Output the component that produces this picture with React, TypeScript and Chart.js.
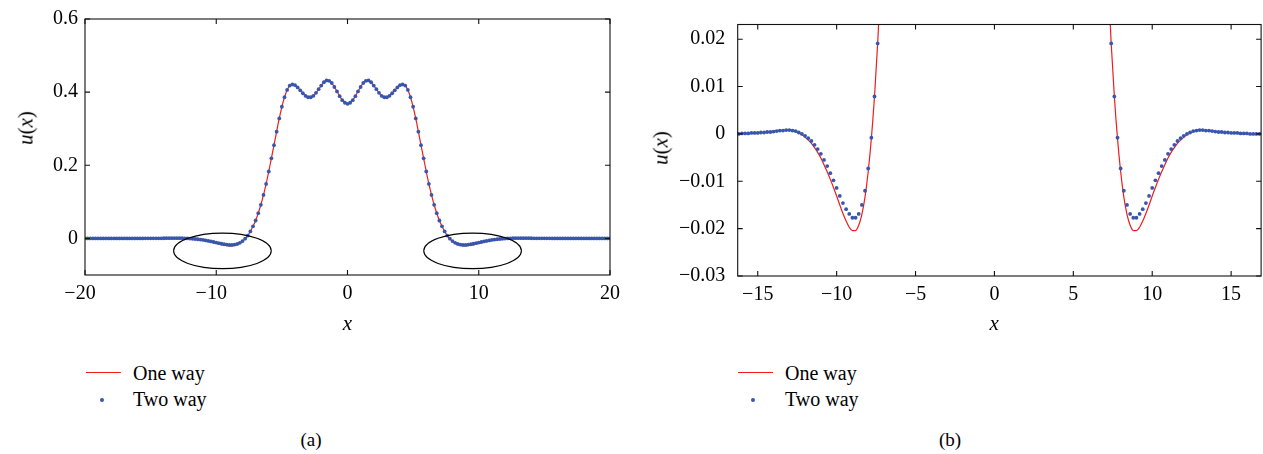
import React, { useEffect, useRef } from 'react';
import { Chart, registerables } from 'chart.js';

Chart.register(...registerables);

const SERIF = '"Liberation Serif", "DejaVu Serif", serif';
Chart.defaults.font.family = SERIF;
const BLUE = '#3856ad';
const RED = '#ee1c1c';

// sampling grid: x = -20 ... 20, step 0.2 (201 samples)
const xStart = -20;
const xStep = 0.2;
const sampleCount = 201;
const xGrid = Array.from({ length: sampleCount }, (_, i) => +(xStart + xStep * i).toFixed(1));

// "Two way" solution u(x) (dots)
const twoWay = [
  // -20.0 .. -16.4
  0, 0, 0, 0, 0, 0, 0, 0, 0, 0, 0, 0, 0, 0, 0, 0, 0, 0, 0,
  // -16.2 .. -12.2
  0.0000, 0.0001, 0.0001, 0.0001, 0.0002, 0.0002, 0.0002, 0.0003, 0.0003, 0.0004, 0.0004,
  0.0005, 0.0006, 0.0007, 0.0007, 0.0008, 0.0008, 0.0007, 0.0006, 0.0003, 0.0000,
  // -12.0 .. -7.6
  -0.0004, -0.0009, -0.0015, -0.0023, -0.0032, -0.0042, -0.0055, -0.0068, -0.0083, -0.0098,
  -0.0114, -0.0131, -0.0146, -0.0159, -0.0169, -0.0177, -0.0177, -0.0169, -0.0150, -0.0120,
  -0.0073, -0.0008, 0.0079,
  // -7.4 .. -4.2
  0.0191, 0.033, 0.049, 0.069, 0.092, 0.119, 0.149, 0.183, 0.219, 0.255, 0.292, 0.328, 0.360,
  0.386, 0.406, 0.418, 0.421,
  // -4.0 .. -0.2
  0.419, 0.413, 0.405, 0.397, 0.390, 0.386, 0.386, 0.390, 0.398, 0.408, 0.418, 0.427, 0.432,
  0.431, 0.425, 0.414, 0.402, 0.389, 0.378, 0.371,
  // 0.0
  0.368,
  // 0.2 .. 4.0
  0.371, 0.378, 0.389, 0.402, 0.414, 0.425, 0.431, 0.432, 0.427, 0.418, 0.408, 0.398, 0.390,
  0.386, 0.386, 0.390, 0.397, 0.405, 0.413, 0.419,
  // 4.2 .. 7.4
  0.421, 0.418, 0.406, 0.386, 0.360, 0.328, 0.292, 0.255, 0.219, 0.183, 0.149, 0.119, 0.092,
  0.069, 0.049, 0.033, 0.0191,
  // 7.6 .. 12.0
  0.0079, -0.0008, -0.0073, -0.0120, -0.0150, -0.0169, -0.0177, -0.0177, -0.0169, -0.0159,
  -0.0146, -0.0131, -0.0114, -0.0098, -0.0083, -0.0068, -0.0055, -0.0042, -0.0032, -0.0023,
  -0.0015, -0.0009, -0.0004,
  // 12.2 .. 16.2
  0.0000, 0.0003, 0.0006, 0.0007, 0.0008, 0.0008, 0.0007, 0.0007, 0.0006, 0.0005, 0.0004,
  0.0004, 0.0003, 0.0003, 0.0002, 0.0002, 0.0002, 0.0001, 0.0001, 0.0001, 0.0000,
  // 16.4 .. 20.0
  0, 0, 0, 0, 0, 0, 0, 0, 0, 0, 0, 0, 0, 0, 0, 0, 0, 0, 0,
];

// "One way" solution u(x) (line)
const oneWay = [
  // -20.0 .. -16.4
  0, 0, 0, 0, 0, 0, 0, 0, 0, 0, 0, 0, 0, 0, 0, 0, 0, 0, 0,
  // -16.2 .. -13.2
  0.0000, 0.0001, 0.0001, 0.0001, 0.0002, 0.0002, 0.0002, 0.0003, 0.0003, 0.0004, 0.0004,
  0.0005, 0.0006, 0.0007, 0.0007, 0.0008,
  // -13.0 .. -7.6
  0.0008, 0.0007, 0.0005, 0.0002, -0.0002, -0.0007, -0.0013, -0.0020, -0.0029, -0.0039,
  -0.0051, -0.0065, -0.0080, -0.0096, -0.0113, -0.0131, -0.0150, -0.0168, -0.0184, -0.0197,
  -0.0204, -0.0204, -0.0193, -0.0170, -0.0133, -0.0080, -0.0010, 0.0079,
  // -7.4 .. -4.2
  0.0191, 0.033, 0.049, 0.069, 0.092, 0.119, 0.149, 0.183, 0.219, 0.255, 0.292, 0.328, 0.360,
  0.386, 0.406, 0.418, 0.421,
  // -4.0 .. -0.2
  0.419, 0.413, 0.405, 0.397, 0.390, 0.386, 0.386, 0.390, 0.398, 0.408, 0.418, 0.427, 0.432,
  0.431, 0.425, 0.414, 0.402, 0.389, 0.378, 0.371,
  // 0.0
  0.368,
  // 0.2 .. 4.0
  0.371, 0.378, 0.389, 0.402, 0.414, 0.425, 0.431, 0.432, 0.427, 0.418, 0.408, 0.398, 0.390,
  0.386, 0.386, 0.390, 0.397, 0.405, 0.413, 0.419,
  // 4.2 .. 7.4
  0.421, 0.418, 0.406, 0.386, 0.360, 0.328, 0.292, 0.255, 0.219, 0.183, 0.149, 0.119, 0.092,
  0.069, 0.049, 0.033, 0.0191,
  // 7.6 .. 13.0
  0.0079, -0.0010, -0.0080, -0.0133, -0.0170, -0.0193, -0.0204, -0.0204, -0.0197, -0.0184,
  -0.0168, -0.0150, -0.0131, -0.0113, -0.0096, -0.0080, -0.0065, -0.0051, -0.0039, -0.0029,
  -0.0020, -0.0013, -0.0007, -0.0002, 0.0002, 0.0005, 0.0007, 0.0008,
  // 13.2 .. 16.2
  0.0008, 0.0007, 0.0007, 0.0006, 0.0005, 0.0004, 0.0004, 0.0003, 0.0003, 0.0002, 0.0002,
  0.0002, 0.0001, 0.0001, 0.0001, 0.0000,
  // 16.4 .. 20.0
  0, 0, 0, 0, 0, 0, 0, 0, 0, 0, 0, 0, 0, 0, 0, 0, 0, 0, 0,
];

const seriesNames = ['One way', 'Two way'];

// panel (a) axes
const xTicksA = [-20, -10, 0, 10, 20];
const xTickLabelsA = ['\u221220\u2002', '\u221210\u2002', '0', '10', '20'];
const yTicksA = [0, 0.2, 0.4, 0.6];
const yTickLabelsA = ['0', '0.2', '0.4', '0.6'];
const xTitleA = 'x';

// panel (b) axes
const xTicksB = [-15, -10, -5, 0, 5, 10, 15];
const xTickLabelsB = ['\u221215', '\u221210', '\u22125', '0', '5', '10', '15'];
const yTicksB = [-0.03, -0.02, -0.01, 0, 0.01, 0.02];
const yTickLabelsB = ['\u22120.03', '\u22120.02', '\u22120.01', '0', '0.01', '0.02'];
const xTitleB = 'x\u2002';

// highlight ellipses in panel (a), in data units
const ellipseCentersX = [-9.53, 9.53];
const ellipseCenterY = -0.034;
const ellipseRadiusX = 3.72;
const ellipseRadiusY = 0.0485;

const frameTicksPlugin = {
  id: 'frameTicks',
  afterDatasetsDraw(chart: any) {
    const { ctx, chartArea: a, scales } = chart;
    const len = 5;
    ctx.save();
    ctx.strokeStyle = '#111';
    ctx.lineWidth = 1.1;
    ctx.beginPath();
    scales.x.ticks.forEach((t: any) => {
      const px = scales.x.getPixelForValue(t.value);
      ctx.moveTo(px, a.bottom);
      ctx.lineTo(px, a.bottom - len);
      ctx.moveTo(px, a.top);
      ctx.lineTo(px, a.top + len);
    });
    scales.y.ticks.forEach((t: any) => {
      const py = scales.y.getPixelForValue(t.value);
      ctx.moveTo(a.left, py);
      ctx.lineTo(a.left + len, py);
      ctx.moveTo(a.right, py);
      ctx.lineTo(a.right - len, py);
    });
    ctx.stroke();
    ctx.strokeRect(a.left, a.top, a.right - a.left, a.bottom - a.top);
    ctx.restore();
  },
};

const ellipsePlugin = {
  id: 'ellipses',
  afterDatasetsDraw(chart: any) {
    const { ctx, scales } = chart;
    const x = scales.x;
    const y = scales.y;
    ctx.save();
    ctx.strokeStyle = '#000';
    ctx.lineWidth = 1.1;
    ellipseCentersX.forEach((cx) => {
      const px = x.getPixelForValue(cx);
      const py = y.getPixelForValue(ellipseCenterY);
      const rx = Math.abs(x.getPixelForValue(cx + ellipseRadiusX) - px);
      const ry = Math.abs(y.getPixelForValue(ellipseCenterY + ellipseRadiusY) - py);
      ctx.beginPath();
      ctx.ellipse(px, py, rx, ry, 0, 0, Math.PI * 2);
      ctx.stroke();
    });
    ctx.restore();
  },
};

type PanelSpec = {
  xMin: number; xMax: number; yMin: number; yMax: number;
  xTicks: number[]; xLabels: string[]; yTicks: number[]; yLabels: string[];
  xTitle: string;
  yAxisWidth: number; xAxisHeight: number; yLabelPad: number;
  padTop: number; padRight: number; plugins: any[];
};

function makeConfig(p: PanelSpec): any {
  const twoWayPts = xGrid.map((x, i) => ({ x, y: twoWay[i] }));
  const oneWayPts = xGrid.map((x, i) => ({ x, y: oneWay[i] }));
  const tickFont = { family: SERIF, size: 20, style: 'normal' as const };
  return {
    type: 'scatter',
    data: {
      datasets: [
        {
          label: seriesNames[1],
          data: twoWayPts,
          showLine: false,
          pointRadius: 1.9,
          pointHoverRadius: 1.9,
          pointBackgroundColor: BLUE,
          pointBorderWidth: 0,
          borderColor: BLUE,
          clip: 0,
          order: 0,
        },
        {
          label: seriesNames[0],
          data: oneWayPts,
          showLine: true,
          pointRadius: 0,
          pointHoverRadius: 0,
          borderColor: RED,
          backgroundColor: RED,
          borderWidth: 1.2,
          cubicInterpolationMode: 'monotone',
          clip: 0,
          order: 1,
        },
      ],
    },
    options: {
      responsive: false,
      animation: false,
      events: [],
      font: { family: SERIF },
      layout: { padding: { left: 0, top: p.padTop, right: p.padRight, bottom: 0 } },
      plugins: { legend: { display: false }, tooltip: { enabled: false } },
      scales: {
        x: {
          type: 'linear',
          min: p.xMin,
          max: p.xMax,
          afterBuildTicks: (s: any) => { s.ticks = p.xTicks.map((v) => ({ value: v })); },
          afterFit: (s: any) => { s.height = p.xAxisHeight; },
          grid: { display: false, drawTicks: false },
          border: { display: false },
          ticks: {
            autoSkip: false,
            maxRotation: 0,
            padding: 6.5,
            color: '#000',
            font: tickFont,
            callback: (_v: any, i: number) => p.xLabels[i],
          },
          title: {
            display: true,
            text: p.xTitle,
            color: '#000',
            font: { family: SERIF, size: 21, style: 'italic' },
            padding: { top: 0, bottom: 8.4 },
          },
        },
        y: {
          type: 'linear',
          min: p.yMin,
          max: p.yMax,
          afterBuildTicks: (s: any) => { s.ticks = p.yTicks.map((v) => ({ value: v })); },
          afterFit: (s: any) => { s.width = p.yAxisWidth; },
          grid: { display: false, drawTicks: false },
          border: { display: false },
          ticks: {
            autoSkip: false,
            padding: p.yLabelPad,
            color: '#000',
            font: tickFont,
            callback: (_v: any, i: number) => p.yLabels[i],
          },
          title: { display: false },
        },
      },
    },
    plugins: p.plugins,
  };
}

function ChartCanvas({ spec, left, width, height }: { spec: PanelSpec; left: number; width: number; height: number }) {
  const ref = useRef<HTMLCanvasElement | null>(null);
  useEffect(() => {
    if (!ref.current) return;
    const chart = new Chart(ref.current, makeConfig(spec));
    let alive = true;
    const fontsApi = (document as any).fonts;
    if (fontsApi && fontsApi.load) {
      Promise.all([
        fontsApi.load('20px "Liberation Serif"'),
        fontsApi.load('italic 21px "Liberation Serif"'),
      ]).then(() => { if (alive) chart.update('none'); }).catch(() => {});
    }
    return () => { alive = false; chart.destroy(); };
  }, []);
  return (
    <canvas
      ref={ref}
      width={width}
      height={height}
      style={{ position: 'absolute', left, top: 0, width, height }}
    />
  );
}

function YTitle({ cx, cy }: { cx: number; cy: number }) {
  return (
    <div
      style={{
        position: 'absolute',
        left: cx,
        top: cy,
        transform: 'translate(-50%, -50%) rotate(-90deg)',
        fontFamily: SERIF,
        fontSize: 21,
        lineHeight: '21px',
        whiteSpace: 'nowrap',
        color: '#000',
      }}
    >
      <i>u</i>(<i>x</i>)
    </div>
  );
}

function Legend({ lineLeft, dotX, textLeft }: { lineLeft: number; dotX: number; textLeft: number }) {
  const text: React.CSSProperties = {
    position: 'absolute',
    left: textLeft,
    fontFamily: SERIF,
    fontSize: 20,
    lineHeight: '20px',
    whiteSpace: 'nowrap',
    color: '#000',
  };
  return (
    <>
      <div style={{ position: 'absolute', left: lineLeft, top: 371.6, width: 35, height: 0, borderTop: `1.2px solid ${RED}` }} />
      <div style={{ ...text, top: 362.7 }}>{seriesNames[0]}</div>
      <div style={{ position: 'absolute', left: dotX - 2, top: 398.3, width: 4, height: 4, borderRadius: '50%', background: BLUE }} />
      <div style={{ ...text, top: 389.3 }}>{seriesNames[1]}</div>
    </>
  );
}

function Caption({ cx, label }: { cx: number; label: string }) {
  return (
    <div
      style={{
        position: 'absolute',
        left: cx - 50,
        width: 100,
        top: 430,
        textAlign: 'center',
        fontFamily: SERIF,
        fontSize: 19,
        lineHeight: '19px',
        color: '#000',
      }}
    >
      {label}
    </div>
  );
}

const specA: PanelSpec = {
  xMin: -20, xMax: 20, yMin: -0.1, yMax: 0.6,
  xTicks: xTicksA, xLabels: xTickLabelsA, yTicks: yTicksA, yLabels: yTickLabelsA,
  xTitle: xTitleA,
  yAxisWidth: 85, xAxisHeight: 70, yLabelPad: 7,
  padTop: 14, padRight: 21, plugins: [frameTicksPlugin, ellipsePlugin],
};

const specB: PanelSpec = {
  xMin: -16.27, xMax: 16.9, yMin: -0.03, yMax: 0.0231,
  xTicks: xTicksB, xLabels: xTickLabelsB, yTicks: yTicksB, yLabels: yTickLabelsB,
  xTitle: xTitleB,
  yAxisWidth: 106.7, xAxisHeight: 69, yLabelPad: 12.5,
  padTop: 14.7, padRight: 1.3, plugins: [frameTicksPlugin],
};

export default function App() {
  return (
    <div style={{ position: 'absolute', left: 0, top: 0, width: 1263, height: 454, background: '#fff', overflow: 'hidden' }}>
      <ChartCanvas spec={specA} left={0} width={631} height={345} />
      <ChartCanvas spec={specB} left={631} width={632} height={345} />
      <YTitle cx={26} cy={127.5} />
      <YTitle cx={661} cy={148} />
      <Legend lineLeft={86} dotX={101.7} textLeft={133} />
      <Legend lineLeft={738} dotX={753.3} textLeft={785} />
      <Caption cx={311} label="(a)" />
      <Caption cx={950} label="(b)" />
    </div>
  );
}
